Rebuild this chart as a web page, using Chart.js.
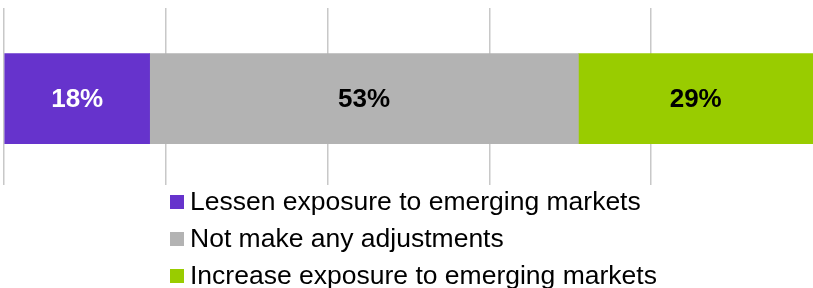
<!DOCTYPE html>
<html>
<head>
<meta charset="utf-8">
<script src="https://cdn.jsdelivr.net/npm/chart.js@4.4.1/dist/chart.umd.min.js"></script>
<style>
  body { margin: 0; background: #fff; font-family: "Liberation Sans", Arial, sans-serif; }
  #wrap { position: relative; width: 813px; height: 288px; overflow: hidden; }
  #box { position: absolute; left: 0; top: 0; width: 813px; height: 190px; }
  #legend { position: absolute; left: 170px; top: 183px; }
  .item { display: flex; align-items: center; height: 37px; font-size: 26.5px; color: #000; white-space: nowrap; }
  .swatch { width: 14px; height: 14px; margin-right: 6px; flex: none; }
</style>
</head>
<body>
<div id="wrap">
  <div id="box"><canvas id="chart"></canvas></div>
  <div id="legend"></div>
</div>
<script>
const categories = [0];
const seriesNames = [
  "Lessen exposure to emerging markets",
  "Not make any adjustments",
  "Increase exposure to emerging markets"
];
const seriesValues = [[18], [53], [29]];
const seriesColors = ["#6633CC", "#B3B3B3", "#99CC00"];
const labelColors = ["#FFFFFF", "#000000", "#000000"];

// draws the % text in the middle of each segment
const barLabels = {
  id: "barLabels",
  afterDatasetsDraw(chart) {
    const ctx = chart.ctx;
    ctx.save();
    ctx.font = "bold 26px 'Liberation Sans', Arial, sans-serif";
    ctx.textAlign = "center";
    ctx.textBaseline = "middle";
    chart.data.datasets.forEach((ds, i) => {
      chart.getDatasetMeta(i).data.forEach((bar, j) => {
        ctx.fillStyle = labelColors[i];
        ctx.fillText(seriesValues[i][j] + "%", (bar.x + bar.base) / 2, bar.y + 1);
      });
    });
    ctx.restore();
  }
};

const chart = new Chart(document.getElementById("chart"), {
  type: "bar",
  data: {
    datasets: seriesNames.map((name, i) => ({
      label: name,
      data: seriesValues[i].map((v, j) => ({ x: v, y: categories[j] })),
      backgroundColor: seriesColors[i],
      borderWidth: 0,
      barThickness: 90
    }))
  },
  options: {
    indexAxis: "y",
    responsive: true,
    maintainAspectRatio: false,
    animation: false,
    layout: { padding: { left: 4, top: 8, right: 0, bottom: 5 } },
    scales: {
      x: {
        stacked: true,
        min: 0,
        max: 100,
        ticks: { display: false, stepSize: 20 },
        grid: {
          color: (c) => (c.tick && c.tick.value === 100 ? "rgba(0,0,0,0)" : "#C8C8C8"),
          lineWidth: 1.5,
          drawTicks: false
        },
        border: { display: false }
      },
      y: {
        type: "linear",
        stacked: true,
        display: false,
        reverse: true,
        min: -0.514,
        max: 0.486
      }
    },
    plugins: {
      legend: { display: false },
      tooltip: { enabled: false }
    }
  },
  plugins: [barLabels]
});

// legend as html so every entry sits on its own line
const legendEl = document.getElementById("legend");
chart.data.datasets.forEach((ds) => {
  const row = document.createElement("div");
  row.className = "item";
  const sw = document.createElement("span");
  sw.className = "swatch";
  sw.style.background = ds.backgroundColor;
  row.appendChild(sw);
  row.appendChild(document.createTextNode(ds.label));
  legendEl.appendChild(row);
});
</script>
</body>
</html>
